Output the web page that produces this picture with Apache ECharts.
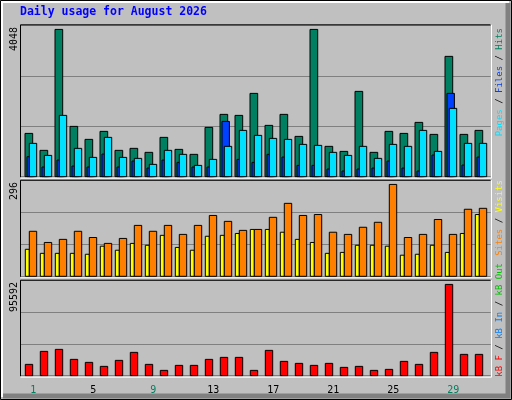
<!DOCTYPE html>
<html><head><meta charset="utf-8">
<script src="https://cdn.jsdelivr.net/npm/echarts@6/dist/echarts.min.js"></script>
<style>html,body{margin:0;padding:0;background:#c0c0c0}#c{width:512px;height:400px}</style>
</head><body><div id="c"></div>
<script>
const days = Array.from({length:31},(_, i)=>String(i+1));
const weekends = ['1','2','8','9','15','16','22','23','29','30'];
const hits  = [1190,724,4048,1383,1026,1246,724,779,669,1081,751,614,1356,1713,1685,2290,1411,1713,1108,4048,834,696,2345,669,1246,1190,1493,1163,3307,1163,1273];
const files = [550,266,458,293,266,623,266,430,238,458,394,266,266,1520,476,394,614,540,311,311,211,156,211,238,430,238,156,595,2290,320,540];
const pages = [916,586,1685,779,531,1081,531,504,339,724,614,311,476,834,1273,1136,1053,1026,888,861,669,586,834,504,888,834,1273,696,1878,916,916];
const visits= [87,74,74,74,71,97,84,106,100,132,93,84,129,132,138,151,151,142,119,109,74,77,100,100,97,68,71,100,77,138,199];
const sites = [145,109,119,145,125,106,122,164,145,164,135,164,196,177,148,151,190,235,196,199,142,135,158,174,296,125,135,183,135,216,219];
const kbytes= [11862,25470,27563,17096,13956,9769,16049,24423,11862,5582,10816,10816,17096,19190,19190,5582,26517,15003,12909,10816,12909,8723,9769,5582,6629,15003,11862,24423,95592,22330,22330];
const maxTop = 4048, maxMid = 296, maxBot = 95592;

const MONO = 'DejaVu Sans Mono';
const panels = [{top:25.3,h:151.4,max:4161},{top:180.7,h:95.6,max:308},{top:280.7,h:95,max:99466}];
const grids = panels.map(p=>({left:20.7,width:470,top:p.top,height:p.h}));
grids.push({left:25.8,width:465,top:377,height:1});
const xAxes = panels.map((p,i)=>({gridIndex:i,type:'value',min:0.16,max:31.493,show:false}));
xAxes.push({gridIndex:3,type:'category',data:days,axisLine:{show:false},axisTick:{show:false},
  axisLabel:{margin:7,fontFamily:MONO,fontSize:10,color:'#000',
    formatter:v=>weekends.includes(v)?'{w|'+v+'}':v, rich:{w:{color:'#00805f',fontFamily:MONO,fontSize:10}}}});
const yAxes = panels.map((p,i)=>({gridIndex:i,type:'value',min:0,max:p.max,interval:p.max/3,
  axisLabel:{show:false},axisLine:{show:false},axisTick:{show:false},splitLine:{lineStyle:{color:'#808080',width:1}}}));
yAxes.push({gridIndex:3,show:false});

function barsSeries(gi, specs){
  return {type:'custom',xAxisIndex:gi,yAxisIndex:gi,clip:false,
    data:days.map((d,i)=>[i+1].concat(specs.map(s=>s.arr[i]))),
    renderItem:(params,api)=>{
      const d=api.value(0); const base=api.coord([d,0]);
      const children=specs.map((s,k)=>{
        const top=api.coord([d,api.value(k+1)]);
        return {type:'rect',shape:{x:base[0]+s.off,y:top[1],width:s.w,height:base[1]-top[1]},
          style:{fill:s.color,stroke:'#000',lineWidth:1}};
      });
      return {type:'group',children};
    }};
}
const series=[
  barsSeries(0,[{arr:hits,color:'#008060',off:-8.3,w:7.7},{arr:files,color:'#0040ff',off:-6.3,w:7.4},{arr:pages,color:'#00e0ff',off:-4,w:7.4}]),
  barsSeries(1,[{arr:visits,color:'#ffff00',off:-8,w:4},{arr:sites,color:'#ff8000',off:-4,w:7.4}]),
  barsSeries(2,[{arr:kbytes,color:'#ff0000',off:-8,w:7.4}])
];

const g=[];
// outer bevel
g.push({type:'rect',shape:{x:0.5,y:0.5,width:511,height:399},style:{fill:'#c0c0c0',stroke:'#000'},z:-10});
g.push({type:'polyline',shape:{points:[[2,397],[2,2],[509,2]]},style:{stroke:'#fff',lineWidth:2,fill:null},z:-9});
g.push({type:'polyline',shape:{points:[[3,396],[508,396],[508,3]]},style:{stroke:'#808080',lineWidth:5,fill:null},z:-9});
// panel frames
panels.forEach(p=>{
  g.push({type:'polyline',shape:{points:[[20.5,p.top+p.h+0.5],[20.5,p.top-0.5],[490.5,p.top-0.5]]},style:{stroke:'#000',lineWidth:1,fill:null},z:5});
  g.push({type:'polyline',shape:{points:[[20.5,p.top+p.h+1.5],[491.5,p.top+p.h+1.5],[491.5,p.top-0.5]]},style:{stroke:'#fff',lineWidth:1,fill:null},z:5});
});
// title
g.push({type:'text',x:20,y:6,style:{text:'Daily usage for August 2026',fill:'#0000ff',font:'bold 11.5px '+MONO}});
// y max labels
[['4048',27],['296',182],['95592',282]].forEach(([t,y])=>g.push({type:'text',x:14,y:y,rotation:Math.PI/2,
  style:{text:t,fill:'#000',font:'10px '+MONO,align:'right',verticalAlign:'middle'}}));
function legend(y,parts){
  const rich={}; let txt='';
  parts.forEach((p,i)=>{rich['p'+i]={fill:p[1],font:'9px '+MONO}; txt+='{p'+i+'|'+p[0]+'}';});
  g.push({type:'text',x:500,y:y,rotation:Math.PI/2,style:{text:txt,rich,align:'right',verticalAlign:'middle',font:'9px '+MONO}});
}
legend(28,[['Pages','#00e0ff'],[' / ','#000'],['Files','#0040ff'],[' / ','#000'],['Hits','#008060']]);
legend(180,[['Sites','#ff8000'],[' / ','#000'],['Visits','#ffff00']]);
legend(263,[['kB F','#ff0000'],[' / ','#000'],['kB In','#0080ff'],[' / ','#000'],['kB Out','#00c000']]);

const chart=echarts.init(document.getElementById('c'),null,{renderer:'canvas'});
chart.setOption({animation:false,backgroundColor:'#c0c0c0',grid:grids,xAxis:xAxes,yAxis:yAxes,series,graphic:{elements:g}});
</script></body></html>
